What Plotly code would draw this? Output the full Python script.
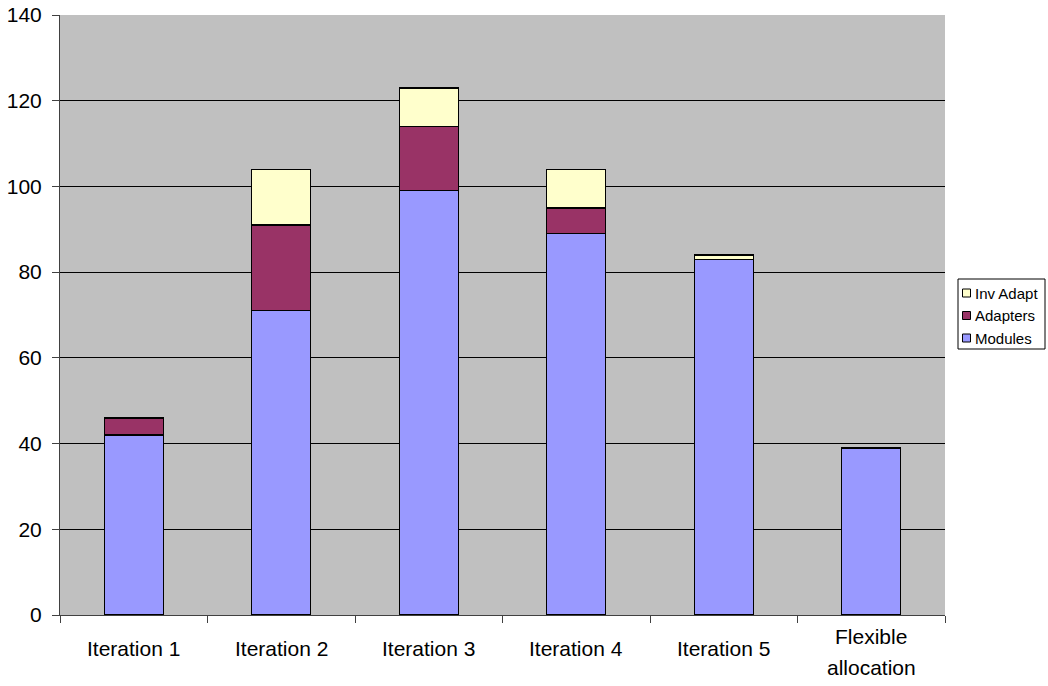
import plotly.graph_objects as go

categories = ["Iteration 1", "Iteration 2", "Iteration 3", "Iteration 4", "Iteration 5", "Flexible allocation"]
category_lines = [["Iteration 1"], ["Iteration 2"], ["Iteration 3"], ["Iteration 4"], ["Iteration 5"], ["Flexible", "allocation"]]
modules = [42, 71, 99, 89, 83, 39]
adapters = [4, 20, 15, 6, 0, 0]
inv_adapt = [0, 13, 9, 9, 1, 0]
y_ticks = [0, 20, 40, 60, 80, 100, 120, 140]

series_names = ["Modules", "Adapters", "Inv Adapt"]
series_values = [modules, adapters, inv_adapt]
series_colors = ["#9999FF", "#993366", "#FFFFCC"]

font = "Liberation Sans, Arial, sans-serif"

# page-pixel geometry of the reference (plot area 60..945 x, 15..615 y)
PL, PR, PT, PB = 60, 945, 15, 615
def px(x):
    return (x - PL) / (PR - PL)
def py(y):
    return (PB - y) / (PB - PT)

fig = go.Figure()
for name, vals, col in zip(series_names, series_values, series_colors):
    fig.add_trace(go.Bar(name=name, x=categories, y=vals, showlegend=False,
                         marker=dict(color=col, line=dict(color="black", width=1.4))))

shapes = []
annotations = []

# manual legend (Excel-style, compact)
shapes.append(dict(type="rect", xref="paper", yref="paper",
                   x0=px(958), x1=px(1045), y0=py(279), y1=py(349),
                   line=dict(color="black", width=1), fillcolor="white", layer="above"))
row_centers = [338, 315.5, 293]  # Modules bottom, Inv Adapt top
for name, col, cy in zip(series_names, series_colors, row_centers):
    shapes.append(dict(type="rect", xref="paper", yref="paper",
                       x0=px(962.5), x1=px(970.5), y0=py(cy + 4), y1=py(cy - 4),
                       line=dict(color="black", width=1), fillcolor=col, layer="above"))
    annotations.append(dict(xref="paper", yref="paper", x=px(973), y=py(cy),
                            xanchor="left", yanchor="middle", text=name, showarrow=False,
                            font=dict(size=15, family=font, color="black")))

# category labels
for cat, lines in zip(categories, category_lines):
    if len(lines) == 1:
        centers = [648]
    else:
        centers = [636, 667]
    for line, cy in zip(lines, centers):
        annotations.append(dict(xref="x", yref="paper", x=cat, y=py(cy),
                                xanchor="center", yanchor="middle", text=line, showarrow=False,
                                font=dict(size=21, family=font, color="black")))

fig.update_layout(
    width=1048, height=686,
    barmode="stack", bargap=0.6,
    paper_bgcolor="white", plot_bgcolor="#C0C0C0",
    margin=dict(l=PL, r=1048 - PR, t=PT, b=686 - PB, autoexpand=False),
    font=dict(family=font, size=21, color="black"),
    showlegend=False,
    shapes=shapes, annotations=annotations,
)
fig.update_xaxes(type="category", tickson="boundaries", ticks="outside", ticklen=7,
                 tickcolor="#404040", showline=True, linecolor="#404040", linewidth=1,
                 showgrid=False, showticklabels=False)
fig.update_yaxes(range=[0, 140], tickvals=y_ticks, ticks="outside", ticklen=7,
                 tickcolor="#404040", showline=True, linecolor="#404040", linewidth=1,
                 showgrid=True, gridcolor="black", gridwidth=1, zeroline=False,
                 ticklabelstandoff=6, ticklabeloverflow="allow",
                 tickfont=dict(size=21, family=font))

fig.write_html("out.html", config={"displayModeBar": False},
               post_script="document.body.style.margin='0';document.body.style.overflow='hidden';")
